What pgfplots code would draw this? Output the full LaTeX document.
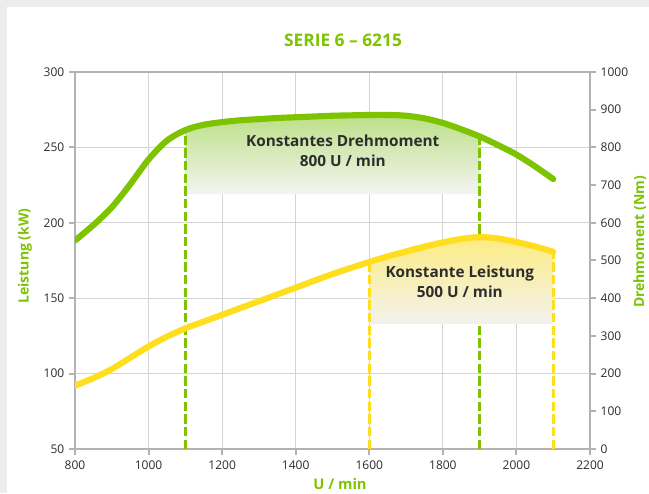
\documentclass[border=0pt]{standalone}
\usepackage{fontspec}
\setmainfont{Open Sans}
\usepackage{pgfplots}
\pgfplotsset{compat=1.18}
\definecolor{lgreen}{RGB}{125,195,0}
\definecolor{lyellow}{RGB}{255,222,30}
\definecolor{axgray}{RGB}{178,178,178}
\definecolor{gridgray}{RGB}{212,212,212}
\definecolor{txt}{RGB}{45,45,45}
\definecolor{bggray}{RGB}{235,236,235}
\definecolor{gtop}{RGB}{188,224,135}
\definecolor{gbot}{RGB}{243,244,240}
\definecolor{ytop}{RGB}{252,236,130}
\definecolor{ybot}{RGB}{242,242,238}
\pgfplotsset{
  myax/.style={
    scale only axis, width=386.25pt, height=282.75pt,
    at={(56.25pt,33pt)}, anchor=south west,
    xmin=800, xmax=2200,
    axis line style={axgray, line width=2.2pt},
    tick style={axgray, line width=1.5pt},
    major tick length=4.5pt,
    tick align=outside,
    tick label style={font=\fontsize{9}{11}\selectfont, text=txt},
    /pgf/number format/assume math mode=true,
    /pgf/number format/1000 sep={},
  }
}
\begin{document}
\begin{tikzpicture}[x=0.75pt,y=0.75pt]
\fill[bggray] (0,0) rectangle (649,493);
\fill[white] (7,0) rectangle (649,486);
% base axis with grid (kW)
\begin{axis}[myax, ymin=50, ymax=300,
  ytick={50,100,...,300}, xtick={800,1000,...,2200},
  xtick pos=bottom, ytick pos=left,
  grid=major, grid style={gridgray, line width=0.8pt},
  xticklabel style={yshift=-1pt}]
\end{axis}
% torque axis (Nm)
\begin{axis}[myax, ymin=0, ymax=1000,
  axis x line=none, axis y line*=right,
  ytick={0,100,...,1000}]
\addplot[draw=none, top color=gtop, bottom color=gbot] coordinates {
 (1100,676) (1100,846) (1150,860) (1200,867) (1250,872) (1300,875) (1350,878) (1400,880)
 (1450,882) (1500,884) (1550,885) (1600,886) (1650,886) (1700,884) (1750,877)
 (1800,865) (1850,848) (1900,829) (1900,676)} -- cycle;
\addplot[lgreen, line width=2.4pt, dash pattern=on 7pt off 2.5pt] coordinates {(1100,0) (1100,846)};
\addplot[lgreen, line width=2.4pt, dash pattern=on 7pt off 2.5pt] coordinates {(1900,0) (1900,829)};
\addplot[lgreen, line width=4.6pt, smooth, line cap=round] coordinates {
 (800,553) (850,594) (900,641) (950,702) (1000,768) (1050,818) (1100,846)
 (1150,860) (1200,867) (1250,872) (1300,875) (1350,878) (1400,880) (1450,882)
 (1500,884) (1550,885) (1600,886) (1650,886) (1700,884) (1750,877) (1800,865)
 (1850,848) (1900,829) (1950,806) (2000,781) (2050,750) (2100,716)};
\end{axis}
% power axis (kW), plots only
\begin{axis}[myax, ymin=50, ymax=300, hide axis]
\addplot[draw=none, top color=ytop, bottom color=ybot] coordinates {
 (1600,132.9) (1600,174) (1650,177.7) (1700,181) (1750,184.2) (1800,187) (1850,189.3) (1900,190.5)
 (1950,189.6) (2000,187.3) (2050,184.3) (2100,180.8) (2100,132.9)} -- cycle;
\addplot[lyellow, line width=2.4pt, dash pattern=on 7pt off 2.5pt] coordinates {(1600,50) (1600,174)};
\addplot[lyellow, line width=2.4pt, dash pattern=on 7pt off 2.5pt] coordinates {(2100,50) (2100,180.8)};
\addplot[lyellow, line width=4.6pt, smooth, line cap=round] coordinates {
 (800,92) (850,97) (900,103) (950,110.5) (1000,118) (1050,124.5) (1100,130) (1150,134.5)
 (1200,139) (1300,148) (1400,157) (1500,166) (1600,174) (1650,177.7) (1700,181)
 (1750,184.2) (1800,187) (1850,189.3) (1900,190.5) (1950,189.6) (2000,187.3)
 (2050,184.3) (2100,180.8)};
\node[align=center, text=txt, font=\fontsize{11.5}{15}\selectfont\bfseries] at (axis cs:1528,248) {Konstantes Drehmoment\\800 U / min};
\node[align=center, text=txt, font=\fontsize{11.5}{15}\selectfont\bfseries] at (axis cs:1846,161) {Konstante Leistung\\500 U / min};
\end{axis}
\node[text=lgreen, font=\fontsize{13}{15}\selectfont\bfseries] at (343,453) {SERIE 6 – 6215};
\node[text=lgreen, font=\fontsize{10.5}{12}\selectfont\bfseries, rotate=90] at (25,237) {Leistung (kW)};
\node[text=lgreen, font=\fontsize{10.5}{12}\selectfont\bfseries, rotate=90] at (640,251) {Drehmoment (Nm)};
\node[text=lgreen, font=\fontsize{11}{12}\selectfont\bfseries] at (340,9) {U / min};
\pgfresetboundingbox
\useasboundingbox (0,0) rectangle (649,493);
\end{tikzpicture}
\end{document}
